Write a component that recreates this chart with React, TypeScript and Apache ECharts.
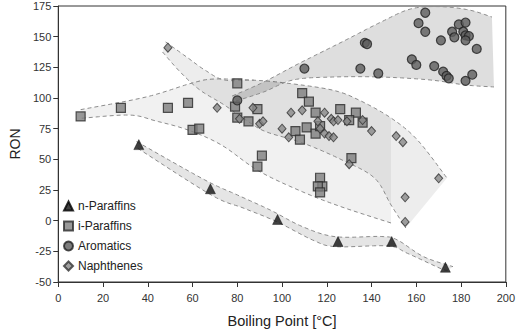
import { useEffect, useRef } from "react";
import * as echarts from "echarts";

// ---- scatter data [boiling point °C, RON] ----
const nParaffins = [[36, 62], [68, 26], [98, 1], [125, -17], [149, -17], [173, -38]];
const iParaffins = [
  [10, 85], [28, 92], [49, 92], [58, 96], [60, 74], [63, 75], [80, 112], [79, 93], [80, 84],
  [89, 91], [85, 81], [109, 104], [112, 97], [115, 88], [126, 91], [133, 88], [130, 82], [136, 80],
  [106, 73], [111, 76], [108, 66], [115, 71], [117, 77], [91, 53], [89, 44], [117, 35], [118, 28],
  [116, 28], [117, 23], [131, 51],
];
const aromatics = [
  [80, 98], [110, 124], [135, 124], [143, 120], [137, 145], [138, 144], [164, 169.5], [161, 161],
  [164, 154], [171, 147], [176, 154], [177, 149.5], [179, 160], [182, 161.5], [181, 154], [182, 151],
  [183.5, 150.5], [182, 147], [187, 140], [158, 131.5], [160, 127], [168, 126], [172, 121.5],
  [173.5, 118], [174.5, 116], [182, 114], [185, 119],
];
const naphthenes = [
  [49, 141], [71, 92], [87, 92], [81, 83], [90, 79], [91.5, 81], [104, 88], [109, 90], [119, 88],
  [116, 81], [117, 75], [122, 83], [123, 81], [125, 82], [129, 81], [136, 82], [140, 73], [151, 69],
  [154, 64], [170, 34.5], [155, 19], [155, -1], [130, 46], [100, 75], [103, 68], [119, 71], [121, 69],
  [123, 68],
];

// ---- hand-drawn envelope boundaries (data coordinates) ----
const nBandUpper = [[35, 64.5], [65.5, 33.2], [80.1, 20.9], [94.7, 8.7], [109.3, -5], [123.9, -13.1], [144.3, -12.9], [151.6, -15.8], [163.3, -29.4], [176.4, -37.5]];
const nBandLower = [[35.5, 59], [68.4, 20.9], [83, 10.1], [97.6, -0.8], [113.7, -15.8], [123.9, -21.2], [147.3, -20.6], [156, -26.6], [170.6, -38.8], [174, -40.5]];

const iRegionUpper = [[10, 90.5], [39.2, 100.8], [59.8, 112.2], [69.9, 115.5], [87.4, 114.5], [101.8, 112.2], [122.4, 106.5], [134.3, 98.4], [148.7, 83.7]];
const iRegionLower = [[10.5, 83.5], [31.8, 86.1], [43.6, 81.3], [58, 73.9], [72.9, 61.7], [89.6, 40.5], [109.3, 23.4], [126.8, 11.1], [148.7, -1.9]];

const napRegionUpper = [[48, 145.7], [58, 132.6], [65.5, 122.8], [74.2, 114.7], [87.4, 114.5], [101.8, 112.2], [122.4, 106.5], [134.3, 98.4], [148.7, 83.7], [160.5, 65.8], [173.7, 34.8]];
const napRegionLower = [[46.6, 137.5], [54.5, 121.2], [63.3, 106.5], [74.2, 94.3], [85.2, 80.4], [93.1, 72.3], [109.3, 63.3], [126.8, 49.5], [141.3, 34.8], [148.7, 12.8], [155.3, -6]];

const aroRegionUpper = [[77.7, 101.6], [91.8, 113], [107.1, 127.7], [126.8, 145.7], [144.3, 162], [157.5, 172.6], [170.6, 174.5], [183.7, 171.7], [193.8, 166]];
const aroRegionLower = [[79.5, 97.6], [91.8, 104.9], [104.9, 114.7], [122.4, 117.1], [144.3, 117.1], [166.2, 114.7], [182, 110.6], [194.7, 109]];

const FONT = "Liberation Sans, Arial, sans-serif";

function catmullRom(pts: number[][], steps = 10): number[][] {
  if (pts.length < 3) return pts.slice();
  const out: number[][] = [];
  for (let i = 0; i < pts.length - 1; i++) {
    const p0 = pts[i - 1] || pts[i];
    const p1 = pts[i];
    const p2 = pts[i + 1];
    const p3 = pts[i + 2] || pts[i + 1];
    for (let s = 0; s < steps; s++) {
      const t = s / steps, t2 = t * t, t3 = t2 * t;
      const f = (k: number) =>
        0.5 * (2 * p1[k] + (-p0[k] + p2[k]) * t + (2 * p0[k] - 5 * p1[k] + 4 * p2[k] - p3[k]) * t2 + (-p0[k] + 3 * p1[k] - 3 * p2[k] + p3[k]) * t3);
      out.push([f(0), f(1)]);
    }
  }
  out.push(pts[pts.length - 1]);
  return out;
}

type Region = { upper: number[][]; lower: number[][]; fill: string; upperStrokeTo?: number };

const regions: Region[] = [
  { upper: iRegionUpper, lower: iRegionLower, fill: "rgba(0,0,0,0.055)", upperStrokeTo: 5 },
  { upper: napRegionUpper, lower: napRegionLower, fill: "rgba(0,0,0,0.07)" },
  { upper: aroRegionUpper, lower: aroRegionLower, fill: "rgba(0,0,0,0.13)" },
  { upper: nBandUpper, lower: nBandLower, fill: "rgba(0,0,0,0.1)" },
];

const dashStyle = { stroke: "#8c8c8c", lineWidth: 1, lineDash: [4, 3], fill: "none" };

function regionSeries(r: Region, idx: number) {
  return {
    type: "custom",
    name: "region" + idx,
    silent: true,
    z: 1,
    data: [[100, 50]],
    renderItem: (_params: any, api: any) => {
      const toPx = (arr: number[][]) => arr.map((p) => api.coord(p));
      const up = catmullRom(toPx(r.upper));
      const lo = catmullRom(toPx(r.lower));
      const upStroke = r.upperStrokeTo ? catmullRom(toPx(r.upper.slice(0, r.upperStrokeTo))) : up;
      return {
        type: "group",
        children: [
          { type: "polygon", shape: { points: up.concat(lo.slice().reverse()) }, style: { fill: r.fill, stroke: "none" } },
          { type: "polyline", shape: { points: upStroke }, style: dashStyle },
          { type: "polyline", shape: { points: lo }, style: dashStyle },
        ],
      };
    },
  };
}

export default function App() {
  const ref = useRef<HTMLDivElement>(null);
  useEffect(() => {
    if (!ref.current) return;
    const chart = echarts.init(ref.current, undefined, { renderer: "svg" });
    const option: any = {
      animation: false,
      backgroundColor: "#ffffff",
      textStyle: { fontFamily: FONT },
      grid: { left: 50.5, right: 11, top: 6, bottom: 51, show: true, borderColor: "#333", borderWidth: 1, backgroundColor: "transparent" },
      legend: {
        data: ["n-Paraffins", "i-Paraffins", "Aromatics", "Naphthenes"],
        orient: "vertical",
        left: 58,
        top: 195,
        itemWidth: 9,
        itemHeight: 9,
        itemGap: 8,
        textStyle: { fontFamily: FONT, fontSize: 12, color: "#222" },
      },
      xAxis: {
        type: "value",
        min: 0,
        max: 200,
        interval: 20,
        name: "Boiling Point [°C]",
        nameLocation: "middle",
        nameGap: 31,
        nameTextStyle: { fontFamily: FONT, fontSize: 14.5, color: "#222" },
        axisLine: { onZero: false, lineStyle: { color: "#333", width: 1 } },
        axisTick: { show: true, inside: false, length: 5, lineStyle: { color: "#333" } },
        axisLabel: { fontFamily: FONT, fontSize: 11, color: "#333", margin: 10 },
        splitLine: { show: false },
      },
      yAxis: {
        type: "value",
        min: -50,
        max: 175,
        interval: 25,
        name: "RON",
        nameLocation: "middle",
        nameGap: 36,
        nameTextStyle: { fontFamily: FONT, fontSize: 14, color: "#222" },
        axisLine: { onZero: false, lineStyle: { color: "#333", width: 1 } },
        axisTick: { show: true, inside: false, length: 5, lineStyle: { color: "#333" } },
        axisLabel: { fontFamily: FONT, fontSize: 11, color: "#333", margin: 7 },
        splitLine: { show: false },
      },
      series: [
        ...regions.map(regionSeries),
        {
          type: "scatter", name: "n-Paraffins", data: nParaffins, symbol: "triangle", symbolSize: [10, 10], z: 3,
          itemStyle: { color: "#111", borderColor: "#000", borderWidth: 0.5 },
        },
        {
          type: "scatter", name: "i-Paraffins", data: iParaffins, symbol: "rect", symbolSize: 9, z: 3,
          itemStyle: { color: "#7e7e7e", borderColor: "#2a2a2a", borderWidth: 1.2 },
        },
        {
          type: "scatter", name: "Aromatics", data: aromatics, symbol: "circle", symbolSize: 9, z: 3,
          itemStyle: { color: "#5c5c5c", borderColor: "#222", borderWidth: 1.2 },
        },
        {
          type: "scatter", name: "Naphthenes", data: naphthenes, symbol: "diamond", symbolSize: [8, 9], z: 3,
          itemStyle: { color: "#888", borderColor: "#333", borderWidth: 1 },
        },
      ],
    };
    chart.setOption(option);
    return () => chart.dispose();
  }, []);
  return <div ref={ref} style={{ position: "fixed", left: 0, top: 0, width: 518, height: 333 }} />;
}
